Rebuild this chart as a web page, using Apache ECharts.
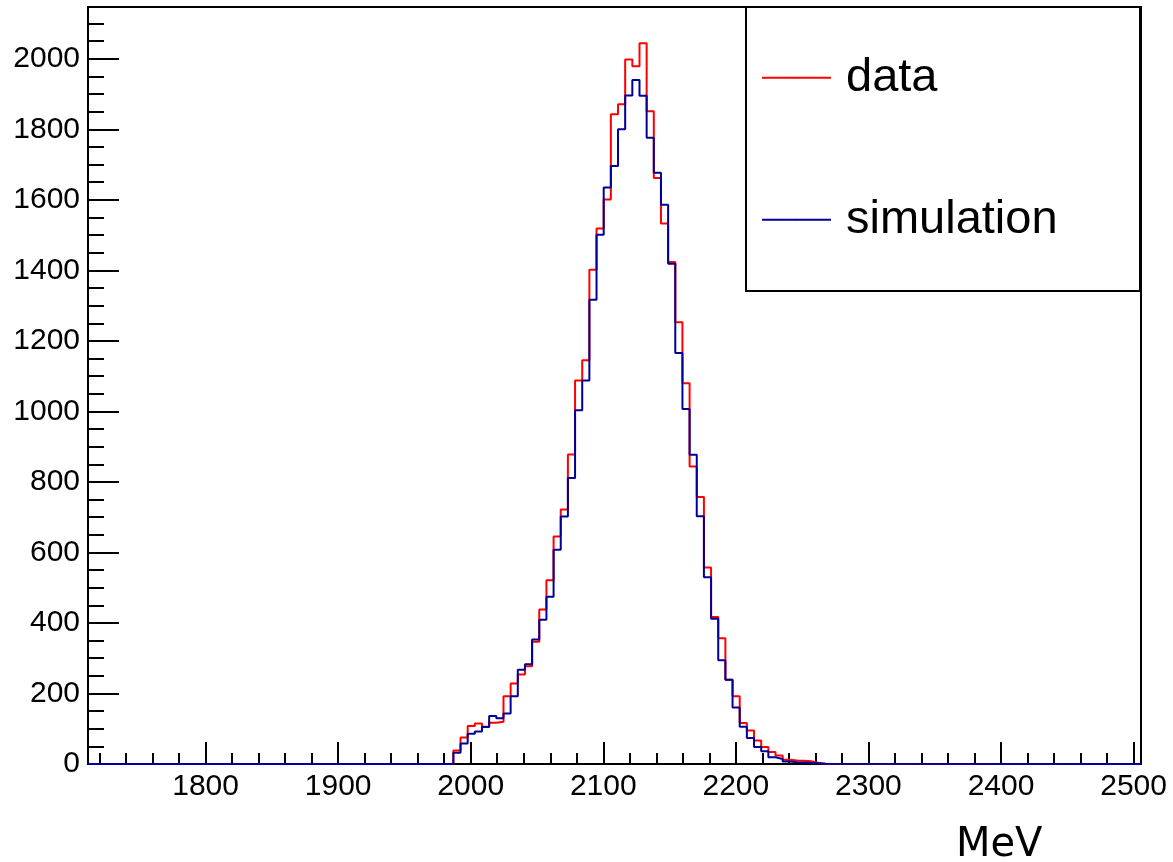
<!DOCTYPE html>
<html>
<head>
<meta charset="utf-8">
<script src="https://cdn.jsdelivr.net/npm/echarts@6/dist/echarts.min.js"></script>
<style>
  html, body { margin: 0; padding: 0; background: #fff; }
  #chart { width: 1173px; height: 862px; }
</style>
</head>
<body>
<div id="chart"></div>
<script>
// axis range (MeV) and histogram binning
const xMin = 1711.3;
const xMax = 2505.6;
const yMax = 2147;
const firstBinLow = 1986.9;   // low edge of first non-empty bin
const binWidth = 5.4;

// bin contents, starting at firstBinLow (everything outside is 0)
const dataCounts = [
    38, 75, 108, 115, 106, 117, 120, 192, 228, 254,
    277, 347, 438, 521, 645, 722, 878, 1088, 1145, 1402,
    1519, 1601, 1843, 1871, 1998, 1979, 2044, 1851, 1662, 1533,
    1424, 1253, 1080, 844, 757, 557, 417, 357, 239, 192,
    116, 95, 67, 48, 34, 24, 12, 10, 9, 8,
    3, 1
];
const simCounts = [
    32, 58, 86, 92, 105, 136, 130, 143, 192, 267,
    283, 353, 409, 474, 608, 702, 811, 1003, 1088, 1317,
    1501, 1635, 1696, 1800, 1896, 1940, 1895, 1776, 1677, 1586,
    1419, 1166, 1007, 877, 703, 530, 412, 294, 239, 160,
    106, 74, 48, 36, 19, 14, 7, 5, 4, 3,
    2, 1
];

const seriesNames = ['data', 'simulation'];
const seriesColors = ['#ff0000', '#000099'];
const xTitle = 'MeV';

const font = 'Liberation Sans, Arial, Helvetica, sans-serif';

// histogram outline: one point per low bin edge, drawn as step line
function stepPoints(counts) {
    const pts = [[xMin, 0]];
    counts.forEach((c, i) => pts.push([firstBinLow + i * binWidth, c]));
    pts.push([firstBinLow + counts.length * binWidth, 0]);
    pts.push([xMax, 0]);
    return pts;
}

const chart = echarts.init(document.getElementById('chart'), null, {renderer: 'canvas'});

const tickStyle = {color: '#000', width: 2};
// plain numbers, no thousands separator (ROOT style)
const labelStyle = {color: '#000', fontFamily: font, fontSize: 30, formatter: v => String(v)};

chart.setOption({
    animation: false,
    backgroundColor: '#fff',
    grid: {
        show: true,
        left: 88, top: 7, right: 32, bottom: 98,
        borderColor: '#000',
        borderWidth: 2,
        backgroundColor: 'transparent'
    },
    legend: {
        orient: 'vertical',
        left: 761,
        top: 52.7,
        padding: 0,
        itemWidth: 69,
        itemHeight: 2,      // keeps the line-series marker dot invisible
        itemGap: 92,
        data: seriesNames,
        textStyle: {
            color: '#000', fontFamily: font, fontSize: 47,
            lineHeight: 50, padding: [0, 0, 0, 10]
        }
    },
    xAxis: {
        type: 'value',
        min: xMin,
        max: xMax,
        splitNumber: 8,
        minInterval: 100,
        maxInterval: 100,
        axisLine: {onZero: false, lineStyle: tickStyle},
        axisTick: {inside: true, length: 22, lineStyle: tickStyle},
        minorTick: {show: true, splitNumber: 5, length: 11, lineStyle: tickStyle},
        axisLabel: Object.assign({margin: 8, showMinLabel: false, showMaxLabel: false}, labelStyle),
        splitLine: {show: false},
        minorSplitLine: {show: false}
    },
    yAxis: {
        type: 'value',
        min: 0,
        max: yMax,
        interval: 200,
        axisLine: {show: true, lineStyle: tickStyle},
        axisTick: {show: true, inside: true, length: 31, lineStyle: tickStyle},
        minorTick: {show: true, splitNumber: 4, length: 16, lineStyle: tickStyle},
        axisLabel: Object.assign({margin: 8, showMaxLabel: false}, labelStyle),
        splitLine: {show: false},
        minorSplitLine: {show: false}
    },
    graphic: [
        {
            type: 'rect',
            shape: {x: 746, y: 7, width: 394, height: 284},
            style: {fill: 'none', stroke: '#000', lineWidth: 2},
            z: 10
        },
        {
            type: 'text',
            x: 956,
            y: 846,
            style: {
                text: xTitle,
                fill: '#000',
                font: '40px "DejaVu Sans", sans-serif',
                textVerticalAlign: 'middle'
            }
        }
    ],
    series: [dataCounts, simCounts].map((counts, i) => ({
        name: seriesNames[i],
        type: 'line',
        step: 'end',
        symbol: 'none',
        silent: true,
        data: stepPoints(counts),
        color: seriesColors[i],
        lineStyle: {color: seriesColors[i], width: 2},
        z: 2 + i
    }))
});
</script>
</body>
</html>
